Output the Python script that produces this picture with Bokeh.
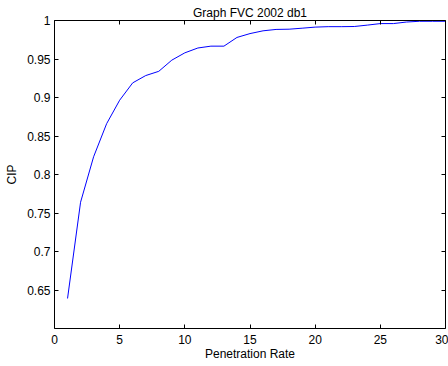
from bokeh.plotting import figure
from bokeh.models import LinearAxis, FixedTicker, Range1d
from bokeh.embed import file_html
from bokeh.resources import INLINE

title_text = "Graph FVC 2002 db1"
x_label = "Penetration Rate"
y_label = "CIP"

penetration_rate = list(range(1, 31))
cip = [0.639, 0.764, 0.823, 0.866, 0.8965, 0.919, 0.9285, 0.934, 0.9485, 0.958,
       0.9643, 0.9667, 0.9667, 0.978, 0.983, 0.9866, 0.9884, 0.9887, 0.990, 0.9914,
       0.992, 0.992, 0.9922, 0.994, 0.996, 0.996, 0.998, 0.999, 0.999, 0.999]

x_ticks = [0, 5, 10, 15, 20, 25, 30]
y_ticks = [0.65, 0.7, 0.75, 0.8, 0.85, 0.9, 0.95, 1.0]
y_tick_labels = ["0.65", "0.7", "0.75", "0.8", "0.85", "0.9", "0.95", "1"]

FONT = "Liberation Sans"

p = figure(width=448, height=366, output_backend="svg", toolbar_location=None,
           x_range=Range1d(0, 30), y_range=Range1d(0.6, 1.0),
           title=title_text, x_axis_label=x_label, y_axis_label=y_label)
p.min_border_left = 54
p.min_border_right = 3
p.min_border_top = 20
p.min_border_bottom = 38
p.outline_line_color = None
p.background_fill_color = "white"
p.border_fill_color = "white"
p.xgrid.visible = False
p.ygrid.visible = False

p.title.text_font = FONT
p.title.text_font_size = "12px"
p.title.text_font_style = "normal"
p.title.align = "center"
p.title.text_color = "black"
p.title.standoff = 2

p.line(penetration_rate, cip, line_color="#0000ff", line_width=1)

def style(ax):
    ax.axis_line_color = "black"
    ax.axis_line_width = 1
    ax.major_tick_in = 4
    ax.major_tick_out = 0
    ax.major_tick_line_color = "black"
    ax.minor_tick_line_color = None
    ax.major_label_text_font = FONT
    ax.major_label_text_font_size = "12px"
    ax.major_label_text_color = "black"
    ax.axis_label_text_font = FONT
    ax.axis_label_text_font_size = "12px"
    ax.axis_label_text_font_style = "normal"
    ax.axis_label_text_color = "black"

xa = p.xaxis[0]
ya = p.yaxis[0]
style(xa)
style(ya)
xa.ticker = FixedTicker(ticks=x_ticks)
ya.ticker = FixedTicker(ticks=y_ticks)
ya.major_label_overrides = {t: l for t, l in zip(y_ticks, y_tick_labels)}
xa.major_label_standoff = 6
xa.axis_label_standoff = 0
ya.major_label_standoff = 4
ya.axis_label_standoff = 5

# box edges (MATLAB style) with inward ticks and no labels
top = LinearAxis(ticker=FixedTicker(ticks=x_ticks))
style(top)
top.major_label_standoff = 0
top.major_label_overrides = {t: "" for t in x_ticks}
p.add_layout(top, "above")

right = LinearAxis(ticker=FixedTicker(ticks=y_ticks))
style(right)
right.major_label_standoff = 0
right.major_label_overrides = {t: "" for t in y_ticks}
p.add_layout(right, "right")

open("out.html", "w").write(file_html(p, INLINE))
